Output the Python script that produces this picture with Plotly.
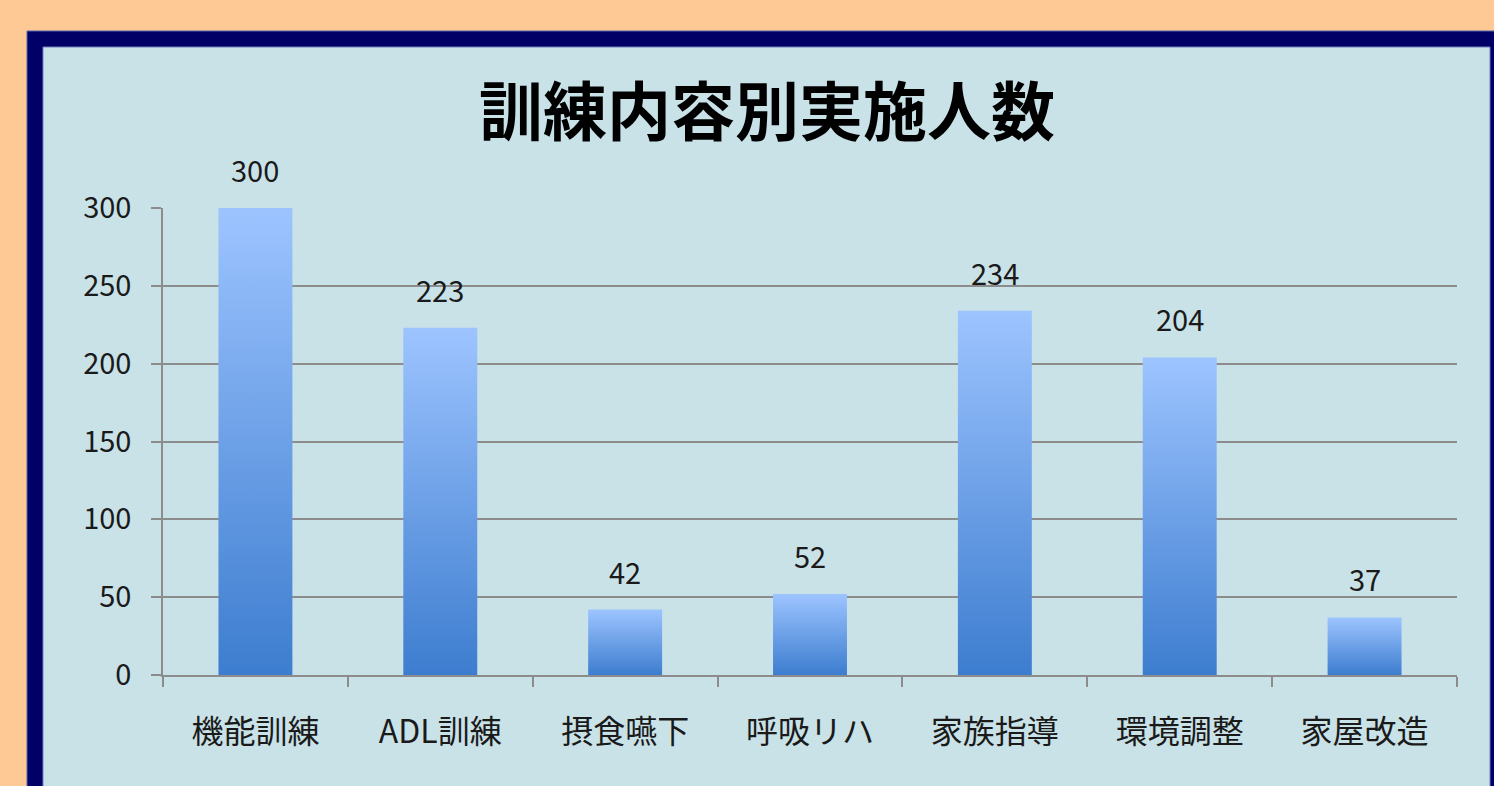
import plotly.graph_objects as go

categories = ["機能訓練", "ADL訓練", "摂食嚥下", "呼吸リハ", "家族指導", "環境調整", "家屋改造"]
values = [300, 223, 42, 52, 234, 204, 37]
y_ticks = [0, 50, 100, 150, 200, 250, 300]
title_text = "訓練内容別実施人数"

W, H = 1494, 786
ML, MR, MT, MB = 163, 37, 208, 111
PW, PH = W - ML - MR, H - MT - MB

def px_x(p):
    return (p - ML) / PW

def px_y(p):
    return (H - MB - p) / PH

BAR_HALF = 0.2
font_family = "Noto Sans CJK JP, Noto Sans, sans-serif"

fig = go.Figure()

for i, v in enumerate(values):
    fig.add_trace(go.Scatter(
        x=[i - BAR_HALF, i + BAR_HALF, i + BAR_HALF, i - BAR_HALF, i - BAR_HALF],
        y=[0, 0, v, v, 0],
        mode="lines",
        line=dict(width=0),
        fill="toself",
        fillgradient=dict(type="vertical",
                          colorscale=[[0, "#3D7DCF"], [1, "#9DC4FF"]]),
        hoverinfo="skip",
        showlegend=False,
    ))

for i, v in enumerate(values):
    fig.add_annotation(x=i, y=v, text=str(v), showarrow=False,
                       yanchor="bottom", yshift=16,
                       font=dict(size=29, color="#1a1a1a", family=font_family))

# frame shapes
fig.add_shape(type="rect", xref="paper", yref="paper",
              x0=px_x(27), x1=px_x(1520), y0=px_y(31), y1=px_y(820),
              fillcolor="#000066", line=dict(width=1, color="#5566AA"), layer="below")
fig.add_shape(type="rect", xref="paper", yref="paper",
              x0=px_x(43), x1=px_x(1490), y0=px_y(47), y1=px_y(820),
              fillcolor="#C9E2E7", line=dict(width=1, color="#6F7FC0"), layer="below")

fig.update_layout(
    width=W, height=H,
    margin=dict(l=ML, r=MR, t=MT, b=MB, pad=0),
    paper_bgcolor="#FFC996",
    plot_bgcolor="rgba(0,0,0,0)",
    showlegend=False,
    title=dict(text="<b>" + title_text + "</b>", xref="container", yref="container",
               x=767 / W, xanchor="center",
               y=1 - 113 / H, yanchor="middle",
               font=dict(size=64, color="#000000", family=font_family)),
    font=dict(family=font_family, color="#1a1a1a"),
)

fig.update_xaxes(
    range=[-0.5, 6.5],
    tickmode="array",
    tickvals=list(range(len(categories))),
    ticktext=categories,
    ticks="",
    tickfont=dict(size=32, color="#1a1a1a", family=font_family),
    ticklabelstandoff=28,
    showgrid=False,
    zeroline=False,
    showline=True, linecolor="#8C8C8C", linewidth=1.5,
    minor=dict(tickmode="array",
               tickvals=[k - 0.5 for k in range(len(categories) + 1)],
               ticks="outside", ticklen=10, tickcolor="#8C8C8C", tickwidth=1.5,
               showgrid=False),
    fixedrange=True,
)

fig.update_yaxes(
    range=[0, 300],
    tickmode="array",
    tickvals=y_ticks,
    ticks="outside", ticklen=10, tickcolor="#8C8C8C", tickwidth=1.5,
    tickfont=dict(size=29, color="#1a1a1a", family=font_family),
    ticklabelstandoff=14,
    showgrid=True, gridcolor="#8C8C8C", gridwidth=1.5,
    zeroline=False,
    showline=True, linecolor="#8C8C8C", linewidth=1.5,
    fixedrange=True,
)

fig.write_html(
    "out.html",
    config={"displayModeBar": False},
    post_script="document.body.style.margin='0';document.body.style.padding='0';"
                "document.body.style.background='#FFC996';",
)
